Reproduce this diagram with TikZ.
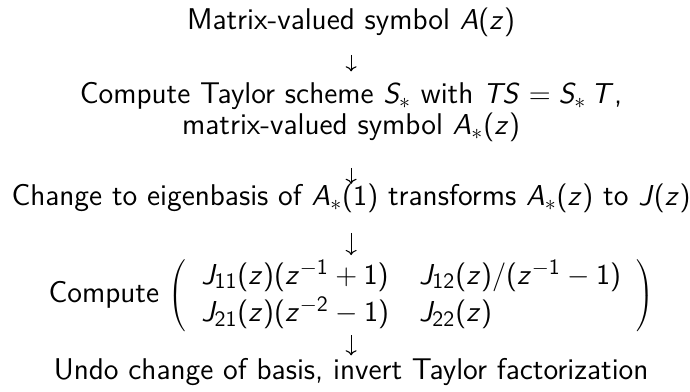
\documentclass[tikz,border=0pt]{standalone}
\usetikzlibrary{arrows.meta}
\renewcommand{\familydefault}{\sfdefault}
% sans math as on slides
\SetSymbolFont{operators}{normal}{OT1}{cmss}{m}{n}
\DeclareSymbolFont{sfletters}{OT1}{cmss}{m}{sl}
\DeclareMathSymbol{A}{\mathalpha}{sfletters}{`A}
\DeclareMathSymbol{J}{\mathalpha}{sfletters}{`J}
\DeclareMathSymbol{S}{\mathalpha}{sfletters}{`S}
\DeclareMathSymbol{T}{\mathalpha}{sfletters}{`T}
\DeclareMathSymbol{z}{\mathalpha}{sfletters}{`z}

\begin{document}
\begin{tikzpicture}[
    stage/.style={inner sep=0pt, anchor=base, align=center},
    flow/.style={-{Computer Modern Rightarrow[length=2.6pt, width=5.5pt]}, line width=0.55pt},
    font=\fontsize{15}{15.5}\selectfont
]
    \useasboundingbox (0,0) rectangle (12.125,6.888);

    % 各步骤节点
    \node[stage] (sym) at (6.17,6.361) {Matrix-valued symbol $A(z)$};
    \node[stage] (taylor) at (6.17,4.516) {Compute Taylor scheme $S_*$ with $TS = S_*\,T$,\\
        matrix-valued symbol $A_*(z)$};
    \node[stage] (eigen) at (6.17,3.269) {Change to eigenbasis of $A_*(1)$ transforms $A_*(z)$ to $J(z)$};
    \node[stage] (mat) at (6.17,1.565) {Compute $\left(\renewcommand{\arraystretch}{1.2}
        \setlength{\arraycolsep}{7.5pt}
        \begin{array}{ll}
            J_{11}(z)(z^{-1}+1) & J_{12}(z)/(z^{-1}-1)\\
            J_{21}(z)(z^{-2}-1) & J_{22}(z)
        \end{array}\right)$};
    \node[stage] (undo) at (6.17,0.211) {Undo change of basis, invert Taylor factorization};

    % 箭头
    \draw[flow, shorten <=8.7pt, shorten >=5.5pt] (sym.south) -- (taylor.north);
    \draw[flow, shorten <=12.7pt, shorten >=0pt] (taylor.south) -- (eigen.north);
    \draw[flow, shorten <=9.7pt, shorten >=1.5pt] (eigen.south) -- (mat.north);
    \draw[flow, shorten <=1pt, shorten >=1.5pt] (mat.south) -- (undo.north);

\end{tikzpicture}
\end{document}
